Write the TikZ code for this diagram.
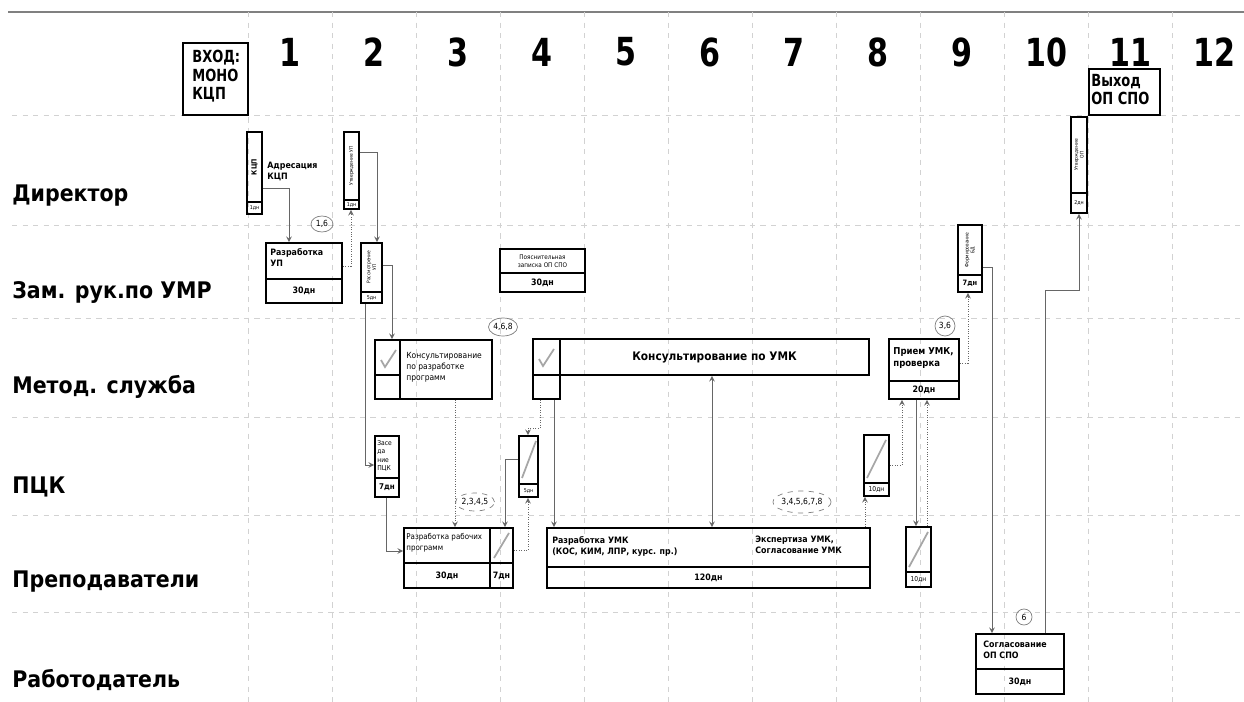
\documentclass[tikz,border=0pt]{standalone}
\usepackage{fontspec}
\setmainfont{DejaVu Sans}[FakeStretch=0.9]
\newfontfamily\narrowfont{DejaVu Sans}[FakeStretch=0.78]
\usetikzlibrary{shapes, shapes.geometric, arrows, positioning, fit}

\begin{document}
\begin{tikzpicture}[x=0.02cm, y=-0.02cm]
% Define styles
\tikzstyle{box} = [rectangle, draw, line width=1.1pt, inner sep=0pt]
\tikzstyle{divline} = [line width=1.1pt]
\tikzstyle{txt} = [anchor=north west, inner sep=0pt, align=left, font=\bfseries\fontsize{5}{6.3}\selectfont]
\tikzstyle{thintxt} = [anchor=north west, inner sep=0pt, align=left, font=\fontsize{4.8}{6.3}\selectfont]
\tikzstyle{headtxt} = [anchor=north west, inner sep=0pt, align=left, font=\narrowfont\bfseries\fontsize{9.5}{10.5}\selectfont]
\tikzstyle{dur} = [inner sep=0pt, font=\bfseries\fontsize{5}{6}\selectfont]
\tikzstyle{tinydur} = [inner sep=0pt, font=\fontsize{3}{3.5}\selectfont]
\tikzstyle{vtxt} = [rotate=90, inner sep=0pt, align=center, font=\fontsize{2.8}{3.3}\selectfont]
\tikzstyle{tag} = [ellipse, draw=gray, inner sep=0pt, font=\fontsize{4.8}{5}\selectfont]
\tikzstyle{arrow} = [gray!80!black, ->, >=stealth]
\tikzstyle{dotarrow} = [gray!80!black, densely dotted, ->, >=stealth]
\tikzstyle{icon} = [gray!70, line width=1pt]
\tikzstyle{lane} = [anchor=west, inner sep=0pt, font=\bfseries\fontsize{13}{15}\selectfont]
\tikzstyle{col} = [font=\narrowfont\bfseries\fontsize{22}{24}\selectfont]
\tikzstyle{gridline} = [gray!35, dashed]

\useasboundingbox (0,0) rectangle (1244,702);
\fill[white] (0,0) rectangle (1244,702);

% Grid
\draw[gray, line width=0.8pt] (8,12) -- (1244,12);
\foreach \i in {0,...,11}
  \draw[gridline] ({248+84*\i},12) -- ({248+84*\i},702);
\foreach \y in {115,225,318,417,515,612}
  \draw[gridline] (12,\y) -- (1244,\y);
\foreach \n in {1,...,12}
  \node (col\n) [col] at ({290+84*(\n-1)},52) {\n};

% Lanes
\node (lane-dir) [lane] at (12,196) {Директор};
\node (lane-zam) [lane] at (12,292) {Зам. рук.по УМР};
\node (lane-met) [lane] at (12,387) {Метод. служба};
\node (lane-pck) [lane] at (12,487) {ПЦК};
\node (lane-prep) [lane] at (12,582) {Преподаватели};
\node (lane-rab) [lane] at (12,680) {Работодатель};

% Input / output
\node (vhod) [box, fit={(183,43) (248,115)}] {};
\node (vhod-t) [headtxt] at (192,50) {ВХОД:\\МОНО\\КЦП};
\node (vyhod) [box, fit={(1089,69) (1160,115)}] {};
\node (vyhod-t) [headtxt] at (1091,74) {Выход\\ОП СПО};

% Director
\node (kcp) [box, fit={(247,132) (262,214)}] {};
\draw[divline] (kcp.west |- 0,202) -- (kcp.east |- 0,202);
\node (kcp-t) [vtxt, font=\bfseries\fontsize{4}{4.5}\selectfont] at (254.5,167) {КЦП};
\node (kcp-d) [tinydur] at (254.5,208) {1дн};
\node (adres) [txt] at (267,162) {Адресация\\КЦП};

\node (utvup) [box, fit={(344,132) (359,209)}] {};
\draw[divline] (utvup.west |- 0,200) -- (utvup.east |- 0,200);
\node (utvup-t) [vtxt] at (351.5,166) {Утверждение УП};
\node (utvup-d) [tinydur] at (351.5,204.5) {1дн};

\node (utvop) [box, fit={(1071,117) (1087,213)}] {};
\draw[divline] (utvop.west |- 0,193) -- (utvop.east |- 0,193);
\node (utvop-t) [vtxt] at (1079,155) {Утверждение\\ОП};
\node (utvop-d) [tinydur] at (1079,203) {2дн};

% Zam
\node (rup) [box, fit={(266,243) (342,303)}] {};
\draw[divline] (rup.west |- 0,279) -- (rup.east |- 0,279);
\node (rup-t) [txt] at (270,248) {Разработка\\УП};
\node (rup-d) [dur] at (304,291) {30дн};

\node (rasup) [box, fit={(361,243) (382,303)}] {};
\draw[divline] (rasup.west |- 0,292) -- (rasup.east |- 0,292);
\node (rasup-t) [vtxt] at (371.5,267) {Рассмотрение\\УП};
\node (rasup-d) [tinydur] at (371.5,297.5) {5дн};

\node (poyasn) [box, fit={(500,249) (585,292)}] {};
\draw[divline] (poyasn.west |- 0,273) -- (poyasn.east |- 0,273);
\node (poyasn-t) [inner sep=0pt, align=center, font=\fontsize{3.6}{4.6}\selectfont] at (542.5,261) {Пояснительная\\записка ОП СПО};
\node (poyasn-d) [dur] at (542.5,282.5) {30дн};

\node (formbd) [box, fit={(958,225) (982,292)}] {};
\draw[divline] (formbd.west |- 0,275) -- (formbd.east |- 0,275);
\node (formbd-t) [vtxt] at (970,250) {Формирование\\БД};
\node (formbd-d) [dur, font=\bfseries\fontsize{4.2}{5}\selectfont] at (970,283.5) {7дн};

% Method service
\node (konsrp) [box, fit={(375,340) (492,399)}] {};
\draw[divline] (konsrp.north west -| 400,0) -- (konsrp.south west -| 400,0);
\draw[divline] (konsrp.west |- 0,375) -- (400,375);
\draw[icon] (381,360) -- (385,367) -- (396,350);
\node (konsrp-t) [thintxt] at (406,352) {Консультирование\\по разработке\\программ};

\node (konsumk) [box, fit={(533,339) (869,375)}] {};
\node (konsumk-l) [box, fit={(533,339) (560,399)}] {};
\draw[icon] (539,359) -- (543,366) -- (554,349);
\node (konsumk-t) [font=\bfseries\fontsize{6.7}{8}\selectfont] at (714.5,357) {Консультирование по УМК};

\node (priem) [box, fit={(889,339) (959,399)}] {};
\draw[divline] (priem.west |- 0,381) -- (priem.east |- 0,381);
\node (priem-t) [txt, font=\bfseries\fontsize{5.4}{7}\selectfont] at (893,347) {Прием УМК,\\проверка};
\node (priem-d) [dur] at (924,390) {20дн};

% PCK
\node (zased) [box, fit={(375,436) (399,497)}] {};
\draw[divline] (zased.west |- 0,478) -- (zased.east |- 0,478);
\node (zased-t) [txt, font=\fontsize{3.8}{4.8}\selectfont] at (377,440) {Засе\\да\\ние\\ПЦК};
\node (zased-d) [dur, font=\bfseries\fontsize{4.5}{5}\selectfont] at (387,487.5) {7дн};

\node (pck4) [box, fit={(519,436) (538,497)}] {};
\draw[divline] (pck4.west |- 0,484) -- (pck4.east |- 0,484);
\draw[icon] (522,478) -- (536,441);
\node (pck4-d) [tinydur] at (528.5,490.5) {5дн};

\node (pck8) [box, fit={(864,435) (889,496)}] {};
\draw[divline] (pck8.west |- 0,483) -- (pck8.east |- 0,483);
\draw[icon] (867,478) -- (886,440);
\node (pck8-d) [tinydur, font=\fontsize{3.8}{4}\selectfont] at (876.5,489.5) {10дн};

% Teachers
\node (rrp) [box, fit={(404,528) (513,588)}] {};
\draw[divline] (rrp.north west -| 490,0) -- (rrp.south west -| 490,0);
\draw[divline] (rrp.west |- 0,563) -- (rrp.east |- 0,563);
\draw[icon] (494,558) -- (509,533);
\node (rrp-t) [thintxt, font=\fontsize{4.5}{6}\selectfont] at (406,533) {Разработка рабочих\\программ};
\node (rrp-d) [dur] at (447,575.5) {30дн};
\node (rrp-d2) [dur] at (501.5,575.5) {7дн};

\node (rumk) [box, fit={(547,528) (870,588)}] {};
\draw[divline] (rumk.west |- 0,567) -- (rumk.east |- 0,567);
\node (rumk-t) [txt] at (552,536) {Разработка УМК\\(КОС, КИМ, ЛПР, курс. пр.)};
\node (rumk-t2) [txt] at (755,536) {Экспертиза УМК,\\Согласование УМК};
\node (rumk-d) [dur] at (708.5,577.5) {120дн};

\node (prep9) [box, fit={(906,527) (931,587)}] {};
\draw[divline] (prep9.west |- 0,572) -- (prep9.east |- 0,572);
\draw[icon] (909,567) -- (928,532);
\node (prep9-d) [tinydur, font=\fontsize{3.8}{4}\selectfont] at (918.5,579.5) {10дн};

% Employer
\node (sogl) [box, fit={(976,634) (1064,694)}] {};
\draw[divline] (sogl.west |- 0,669) -- (sogl.east |- 0,669);
\node (sogl-t) [txt] at (983,641) {Согласование\\ОП СПО};
\node (sogl-d) [dur] at (1020,681.5) {30дн};

% Tags
\node (tag1) [tag, minimum width=0.44cm, minimum height=0.32cm] at (322,224) {1,6};
\node (tag2) [tag, minimum width=0.58cm, minimum height=0.36cm] at (503,327) {4,6,8};
\node (tag3) [tag, dashed, minimum width=0.78cm, minimum height=0.36cm] at (475,502) {2,3,4,5};
\node (tag4) [tag, dashed, minimum width=1.12cm, minimum height=0.44cm] at (802,502) {3,4,5,6,7,8};
\node (tag5) [tag, minimum width=0.4cm, minimum height=0.4cm] at (945,326) {3,6};
\node (tag6) [tag, minimum width=0.32cm, minimum height=0.32cm] at (1024,617) {6};

% Connectors
\coordinate (bend-pck4) at (528,428);
\coordinate (bend-op) at (1045,290);
\draw [arrow] (kcp.east |- 0,188) -| (rup.north -| 289,0);
\draw [dotarrow] (rup.east |- 0,266) -| (utvup.south -| 351,0);
\draw [arrow] (utvup.east |- 0,152) -| (rasup.north -| 377,0);
\draw [arrow] (rasup.east |- 0,265) -| (konsrp.north -| 392,0);
\draw [arrow] (rasup.south -| 365,0) |- (zased.west |- 0,465);
\draw [arrow] (zased.south -| 386,0) |- (rrp.west |- 0,551);
\draw [dotarrow] (konsrp.south -| 455,0) -- (rrp.north -| 455,0);
\draw [dotarrow] (konsumk-l.south -| 540,0) |- (bend-pck4) -- (pck4.north -| 528,0);
\draw [dotarrow] (rrp.east |- 0,550) -| (pck4.south -| 528,0);
\draw [arrow] (pck4.west |- 0,459) -| (rrp.north -| 505,0);
\draw [arrow] (konsumk-l.south -| 554,0) -- (rumk.north -| 554,0);
\draw [arrow, <->] (konsumk.south -| 712,0) -- (rumk.north -| 712,0);
\draw [dotarrow] (rumk.north -| 865,0) -- (pck8.south -| 865,0);
\draw [dotarrow] (pck8.east |- 0,465) -| (priem.south -| 902,0);
\draw [arrow] (priem.south -| 916,0) -- (prep9.north -| 916,0);
\draw [dotarrow] (prep9.north -| 927,0) -- (priem.south -| 927,0);
\draw [dotarrow] (priem.east |- 0,363) -| (formbd.south -| 968,0);
\draw [arrow] (formbd.east |- 0,267) -| (sogl.north -| 992,0);
\draw [arrow] (sogl.north -| 1045,0) -- (bend-op) -| (utvop.south);
\end{tikzpicture}
\end{document}
